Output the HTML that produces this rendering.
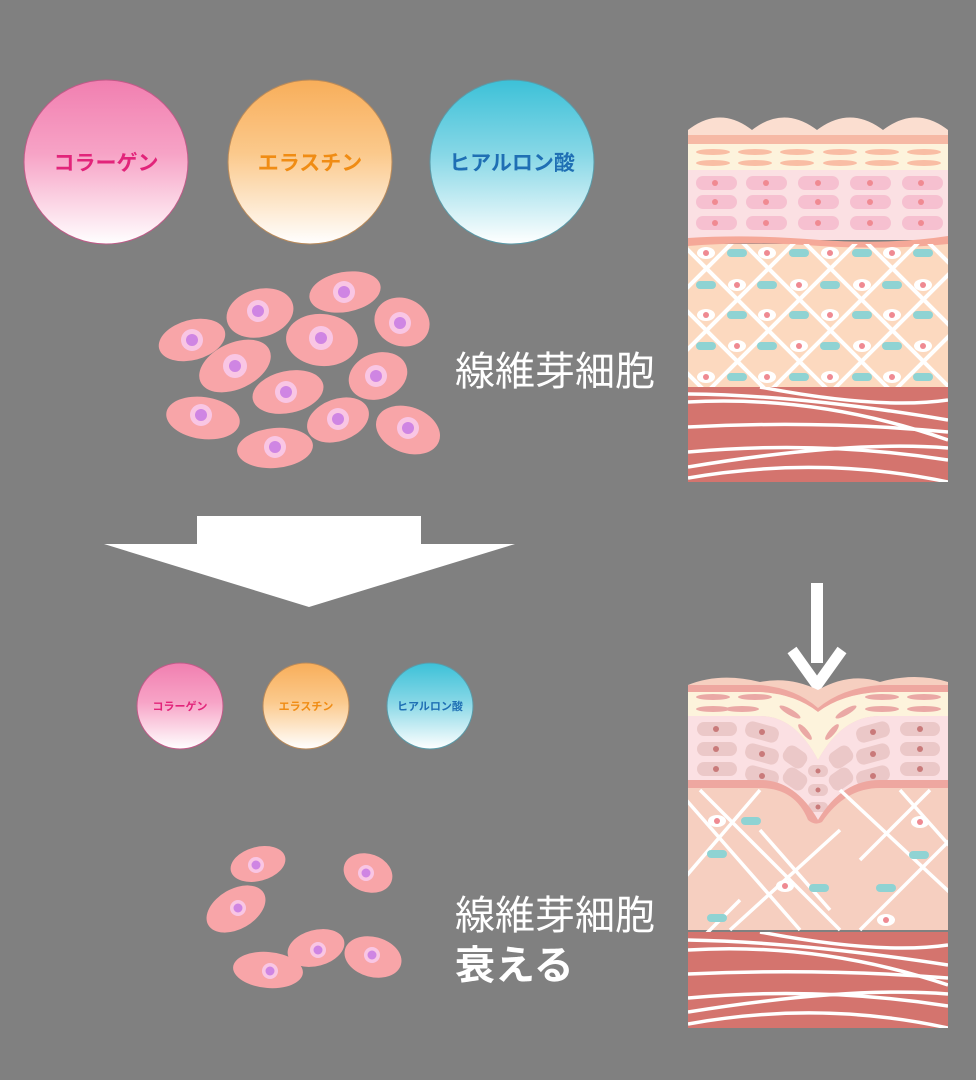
<!DOCTYPE html>
<html><head><meta charset="utf-8"><style>
html,body{margin:0;padding:0;background:#808080;}
svg{display:block}
</style></head><body>
<svg width="976" height="1080" viewBox="0 0 976 1080" xmlns="http://www.w3.org/2000/svg" font-family="Liberation Sans, Noto Sans CJK JP, sans-serif">
<defs>
<linearGradient id="gp" x1="0" y1="0" x2="0" y2="1"><stop offset="0" stop-color="#f17fb0"/><stop offset="0.45" stop-color="#f7a3c6"/><stop offset="1" stop-color="#ffffff"/></linearGradient>
<linearGradient id="go" x1="0" y1="0" x2="0" y2="1"><stop offset="0" stop-color="#f8ae5a"/><stop offset="0.45" stop-color="#fbc98c"/><stop offset="1" stop-color="#ffffff"/></linearGradient>
<linearGradient id="gb" x1="0" y1="0" x2="0" y2="1"><stop offset="0" stop-color="#3cc1d8"/><stop offset="0.45" stop-color="#86d7e6"/><stop offset="1" stop-color="#ffffff"/></linearGradient>
<clipPath id="c1"><rect x="688" y="244" width="260" height="143"/></clipPath>
<clipPath id="c2"><rect x="688" y="780" width="260" height="152"/></clipPath>
<clipPath id="m1"><rect x="688" y="387" width="260" height="95"/></clipPath>
<clipPath id="m2"><rect x="688" y="932" width="260" height="96"/></clipPath>
<g id="eye"><ellipse rx="9" ry="6" fill="#fff"/><circle r="3" fill="#ef8a92"/></g>
<rect id="tb" x="-10" y="-4" width="20" height="8" rx="4" fill="#8fd3d3"/>
</defs>

<circle cx="106" cy="162" r="82" fill="url(#gp)" stroke="#c05a88" stroke-width="1"/>
<text x="106" y="170" text-anchor="middle" font-size="21" font-weight="bold" fill="#e2247a">コラーゲン</text>
<circle cx="310" cy="162" r="82" fill="url(#go)" stroke="#b98a5a" stroke-width="1"/>
<text x="310" y="170" text-anchor="middle" font-size="21" font-weight="bold" fill="#f08c14">エラスチン</text>
<circle cx="512" cy="162" r="82" fill="url(#gb)" stroke="#5a9aa8" stroke-width="1"/>
<text x="512" y="170" text-anchor="middle" font-size="21" font-weight="bold" fill="#1f6fb4">ヒアルロン酸</text>

<circle cx="180" cy="706" r="43" fill="url(#gp)" stroke="#c05a88"/>
<text x="180" y="710" text-anchor="middle" font-size="11" font-weight="bold" fill="#e2247a">コラーゲン</text>
<circle cx="306" cy="706" r="43" fill="url(#go)" stroke="#b98a5a"/>
<text x="306" y="710" text-anchor="middle" font-size="11" font-weight="bold" fill="#f08c14">エラスチン</text>
<circle cx="430" cy="706" r="43" fill="url(#gb)" stroke="#5a9aa8"/>
<text x="430" y="710" text-anchor="middle" font-size="11" font-weight="bold" fill="#1f6fb4">ヒアルロン酸</text>

<g fill="#f8a5a8">
<ellipse cx="345" cy="292" rx="36" ry="20" transform="rotate(-10 345 292)"/>
<ellipse cx="260" cy="313" rx="34" ry="24" transform="rotate(-15 260 313)"/>
<ellipse cx="192" cy="340" rx="34" ry="20" transform="rotate(-15 192 340)"/>
<ellipse cx="322" cy="340" rx="36" ry="26" transform="rotate(5 322 340)"/>
<ellipse cx="402" cy="322" rx="28" ry="24" transform="rotate(20 402 322)"/>
<ellipse cx="235" cy="366" rx="38" ry="23" transform="rotate(-25 235 366)"/>
<ellipse cx="378" cy="376" rx="30" ry="23" transform="rotate(-20 378 376)"/>
<ellipse cx="288" cy="392" rx="36" ry="21" transform="rotate(-12 288 392)"/>
<ellipse cx="203" cy="418" rx="37" ry="21" transform="rotate(8 203 418)"/>
<ellipse cx="338" cy="420" rx="32" ry="21" transform="rotate(-20 338 420)"/>
<ellipse cx="408" cy="430" rx="33" ry="23" transform="rotate(20 408 430)"/>
<ellipse cx="275" cy="448" rx="38" ry="20" transform="rotate(-5 275 448)"/>
</g>
<g fill="#f9c6e4">
<circle cx="344" cy="292" r="11"/><circle cx="258" cy="311" r="11"/><circle cx="192" cy="340" r="11"/><circle cx="321" cy="338" r="12"/><circle cx="400" cy="323" r="11"/><circle cx="235" cy="366" r="12"/><circle cx="376" cy="376" r="11"/><circle cx="286" cy="392" r="11"/><circle cx="201" cy="415" r="11"/><circle cx="338" cy="419" r="11"/><circle cx="408" cy="428" r="11"/><circle cx="275" cy="447" r="11"/>
</g>
<g fill="#cf85e3">
<circle cx="344" cy="292" r="6"/><circle cx="258" cy="311" r="6"/><circle cx="192" cy="340" r="6"/><circle cx="321" cy="338" r="6"/><circle cx="400" cy="323" r="6"/><circle cx="235" cy="366" r="6"/><circle cx="376" cy="376" r="6"/><circle cx="286" cy="392" r="6"/><circle cx="201" cy="415" r="6"/><circle cx="338" cy="419" r="6"/><circle cx="408" cy="428" r="6"/><circle cx="275" cy="447" r="6"/>
</g>
<text x="455" y="385" font-size="40" fill="#fff">線維芽細胞</text>

<g fill="#f8a5a8">
<ellipse cx="258" cy="864" rx="28" ry="17" transform="rotate(-15 258 864)"/>
<ellipse cx="368" cy="873" rx="25" ry="19" transform="rotate(20 368 873)"/>
<ellipse cx="236" cy="909" rx="32" ry="20" transform="rotate(-30 236 909)"/>
<ellipse cx="316" cy="948" rx="29" ry="18" transform="rotate(-15 316 948)"/>
<ellipse cx="373" cy="957" rx="29" ry="20" transform="rotate(15 373 957)"/>
<ellipse cx="268" cy="970" rx="35" ry="18" transform="rotate(5 268 970)"/>
</g>
<g fill="#f9c6e4"><circle cx="256" cy="865" r="8"/><circle cx="366" cy="873" r="8"/><circle cx="238" cy="908" r="8"/><circle cx="318" cy="950" r="8"/><circle cx="372" cy="955" r="8"/><circle cx="270" cy="971" r="8"/></g>
<g fill="#cf85e3"><circle cx="256" cy="865" r="4.5"/><circle cx="366" cy="873" r="4.5"/><circle cx="238" cy="908" r="4.5"/><circle cx="318" cy="950" r="4.5"/><circle cx="372" cy="955" r="4.5"/><circle cx="270" cy="971" r="4.5"/></g>
<text x="455" y="929" font-size="40" fill="#fff">線維芽細胞</text>
<text x="455" y="979" font-size="40" font-weight="bold" fill="#fff">衰える</text>

<polygon points="197,516 421,516 421,544 515,544 309,607 104,544 197,544" fill="#fff"/>
<rect x="811" y="583" width="12" height="80" fill="#fff"/>
<polyline points="792,650 817,685 842,650" fill="none" stroke="#fff" stroke-width="11"/>

<g>
<path d="M688,135 L688,130 Q720,105 752,130 Q784,105 817,130 Q850,105 883,130 Q916,105 948,130 L948,135 Z" fill="#fbded0"/>
<rect x="688" y="135" width="260" height="9" fill="#f6b9a5"/>
<rect x="688" y="144" width="260" height="26" fill="#fdf3dc"/>
<g fill="#f9bda4">
<ellipse cx="713" cy="152" rx="17" ry="3"/><ellipse cx="755" cy="152" rx="17" ry="3"/><ellipse cx="797" cy="152" rx="17" ry="3"/><ellipse cx="840" cy="152" rx="17" ry="3"/><ellipse cx="882" cy="152" rx="17" ry="3"/><ellipse cx="924" cy="152" rx="17" ry="3"/>
<ellipse cx="713" cy="163" rx="17" ry="3"/><ellipse cx="755" cy="163" rx="17" ry="3"/><ellipse cx="797" cy="163" rx="17" ry="3"/><ellipse cx="840" cy="163" rx="17" ry="3"/><ellipse cx="882" cy="163" rx="17" ry="3"/><ellipse cx="924" cy="163" rx="17" ry="3"/>
</g>
<rect x="688" y="170" width="260" height="70" fill="#fbe0e3"/>
<g fill="#f6c0d0">
<rect x="696" y="176" width="41" height="14" rx="7"/><rect x="746" y="176" width="41" height="14" rx="7"/><rect x="798" y="176" width="41" height="14" rx="7"/><rect x="850" y="176" width="41" height="14" rx="7"/><rect x="902" y="176" width="41" height="14" rx="7"/>
<rect x="696" y="195" width="41" height="14" rx="7"/><rect x="746" y="195" width="41" height="14" rx="7"/><rect x="798" y="195" width="41" height="14" rx="7"/><rect x="850" y="195" width="41" height="14" rx="7"/><rect x="902" y="195" width="41" height="14" rx="7"/>
<rect x="696" y="216" width="41" height="14" rx="7"/><rect x="746" y="216" width="41" height="14" rx="7"/><rect x="798" y="216" width="41" height="14" rx="7"/><rect x="850" y="216" width="41" height="14" rx="7"/><rect x="902" y="216" width="41" height="14" rx="7"/>
</g>
<g fill="#f08a92">
<circle cx="715" cy="183" r="3"/><circle cx="766" cy="183" r="3"/><circle cx="818" cy="183" r="3"/><circle cx="870" cy="183" r="3"/><circle cx="921" cy="183" r="3"/>
<circle cx="715" cy="202" r="3"/><circle cx="766" cy="202" r="3"/><circle cx="818" cy="202" r="3"/><circle cx="870" cy="202" r="3"/><circle cx="921" cy="202" r="3"/>
<circle cx="715" cy="223" r="3"/><circle cx="766" cy="223" r="3"/><circle cx="818" cy="223" r="3"/><circle cx="870" cy="223" r="3"/><circle cx="921" cy="223" r="3"/>
</g>
<rect x="688" y="244" width="260" height="143" fill="#fcd9bf"/>
<path d="M688,238 Q750,234 820,240 Q890,245 948,236 L948,244 Q890,250 820,246 Q750,241 688,246 Z" fill="#f5a898"/>
<g clip-path="url(#c1)" stroke="#fff" stroke-width="4">
<path d="M613,237 L800,424 M675,237 L862,424 M737,237 L924,424 M799,237 L986,424 M861,237 L1048,424 M923,237 L1110,424 M551,237 L738,424 M489,237 L676,424"/>
<path d="M862,237 L675,424 M924,237 L737,424 M986,237 L799,424 M1048,237 L861,424 M1110,237 L923,424 M800,237 L613,424 M738,237 L551,424 M676,237 L489,424"/>
</g>
<g>
<use href="#tb" x="737" y="253"/><use href="#tb" x="799" y="253"/><use href="#tb" x="862" y="253"/><use href="#tb" x="923" y="253"/>
<use href="#tb" x="706" y="285"/><use href="#tb" x="767" y="285"/><use href="#tb" x="830" y="285"/><use href="#tb" x="892" y="285"/>
<use href="#tb" x="737" y="315"/><use href="#tb" x="799" y="315"/><use href="#tb" x="862" y="315"/><use href="#tb" x="923" y="315"/>
<use href="#tb" x="706" y="346"/><use href="#tb" x="767" y="346"/><use href="#tb" x="830" y="346"/><use href="#tb" x="892" y="346"/>
<use href="#tb" x="737" y="377"/><use href="#tb" x="799" y="377"/><use href="#tb" x="862" y="377"/><use href="#tb" x="923" y="377"/>
<use href="#eye" x="706" y="253"/><use href="#eye" x="767" y="253"/><use href="#eye" x="830" y="253"/><use href="#eye" x="892" y="253"/>
<use href="#eye" x="737" y="285"/><use href="#eye" x="799" y="285"/><use href="#eye" x="862" y="285"/><use href="#eye" x="923" y="285"/>
<use href="#eye" x="706" y="315"/><use href="#eye" x="767" y="315"/><use href="#eye" x="830" y="315"/><use href="#eye" x="892" y="315"/>
<use href="#eye" x="737" y="346"/><use href="#eye" x="799" y="346"/><use href="#eye" x="862" y="346"/><use href="#eye" x="923" y="346"/>
<use href="#eye" x="706" y="377"/><use href="#eye" x="767" y="377"/><use href="#eye" x="830" y="377"/><use href="#eye" x="892" y="377"/>
</g>
<rect x="688" y="387" width="260" height="95" fill="#d4746e"/>
<g clip-path="url(#m1)" fill="none" stroke="#fff" stroke-width="3.5">
<path d="M688,394 Q800,395 948,420"/>
<path d="M688,402 Q820,395 948,440"/>
<path d="M688,427 Q820,420 948,432"/>
<path d="M688,452 Q820,440 948,460"/>
<path d="M688,467 Q850,440 948,448"/>
<path d="M688,478 Q820,455 948,482"/>
<path d="M760,387 Q880,410 948,400"/>
</g>
</g>

<g>
<path d="M688,685 Q720,672 760,682 Q790,676 818,690 Q850,672 880,682 Q915,672 948,682 L948,930 L688,930 Z" fill="#f6cfc0"/>
<path d="M688,685 L760,685 Q795,688 818,708 Q842,688 880,685 L948,685 L948,692 L880,692 Q842,694 818,712 Q795,694 760,692 L688,692 Z" fill="#eea7a0"/>
<path d="M688,692 L760,692 Q795,694 818,712 Q842,694 880,692 L948,692 L948,716 L880,716 Q842,716 818,760 Q795,716 760,716 L688,716 Z" fill="#fdf3dc"/>
<g fill="#eaa8a5">
<ellipse cx="713" cy="697" rx="17" ry="3"/><ellipse cx="742" cy="709" rx="17" ry="3"/><ellipse cx="713" cy="709" rx="17" ry="3"/><ellipse cx="755" cy="697" rx="17" ry="3"/>
<ellipse cx="882" cy="697" rx="17" ry="3"/><ellipse cx="924" cy="697" rx="17" ry="3"/><ellipse cx="882" cy="709" rx="17" ry="3"/><ellipse cx="924" cy="709" rx="17" ry="3"/>
<ellipse cx="790" cy="712" rx="12" ry="3" transform="rotate(30 790 712)"/><ellipse cx="846" cy="712" rx="12" ry="3" transform="rotate(-30 846 712)"/>
<ellipse cx="805" cy="732" rx="10" ry="3" transform="rotate(50 805 732)"/><ellipse cx="832" cy="732" rx="10" ry="3" transform="rotate(-50 832 732)"/>
</g>
<path d="M688,716 L760,716 Q795,716 818,760 Q842,716 880,716 L948,716 L948,780 L880,780 Q842,780 818,820 Q795,780 760,780 L688,780 Z" fill="#fbe0e3"/>
<g fill="#ebc8c8">
<rect x="697" y="722" width="40" height="14" rx="7"/><rect x="697" y="742" width="40" height="14" rx="7"/><rect x="697" y="762" width="40" height="14" rx="7"/>
<rect x="900" y="722" width="40" height="14" rx="7"/><rect x="900" y="742" width="40" height="14" rx="7"/><rect x="900" y="762" width="40" height="14" rx="7"/>
<rect x="745" y="724" width="34" height="16" rx="7" transform="rotate(15 762 732)"/><rect x="745" y="746" width="34" height="16" rx="7" transform="rotate(15 762 754)"/><rect x="745" y="768" width="34" height="16" rx="7" transform="rotate(15 762 776)"/>
<rect x="856" y="724" width="34" height="16" rx="7" transform="rotate(-15 873 732)"/><rect x="856" y="746" width="34" height="16" rx="7" transform="rotate(-15 873 754)"/><rect x="856" y="768" width="34" height="16" rx="7" transform="rotate(-15 873 776)"/>
<rect x="783" y="748" width="24" height="18" rx="7" transform="rotate(35 795 757)"/><rect x="783" y="770" width="24" height="18" rx="7" transform="rotate(35 795 779)"/>
<rect x="829" y="748" width="24" height="18" rx="7" transform="rotate(-35 841 757)"/><rect x="829" y="770" width="24" height="18" rx="7" transform="rotate(-35 841 779)"/>
<rect x="808" y="765" width="20" height="12" rx="6"/><rect x="808" y="784" width="20" height="12" rx="6"/><rect x="808" y="802" width="20" height="10" rx="5"/>
</g>
<g fill="#c97a7a"><circle cx="716" cy="729" r="3"/><circle cx="716" cy="749" r="3"/><circle cx="716" cy="769" r="3"/><circle cx="920" cy="729" r="3"/><circle cx="920" cy="749" r="3"/><circle cx="920" cy="769" r="3"/><circle cx="762" cy="732" r="3"/><circle cx="762" cy="754" r="3"/><circle cx="762" cy="776" r="3"/><circle cx="873" cy="732" r="3"/><circle cx="873" cy="754" r="3"/><circle cx="873" cy="776" r="3"/><circle cx="818" cy="771" r="2.5"/><circle cx="818" cy="790" r="2.5"/><circle cx="818" cy="807" r="2.5"/></g>
<path d="M688,780 L760,780 Q795,780 818,820 Q842,780 880,780 L948,780 L948,788 L880,788 Q845,788 822,822 Q815,826 808,820 Q795,788 760,788 L688,788 Z" fill="#eea7a0"/>
<g clip-path="url(#c2)" stroke="#fff" stroke-width="3.5">
<path d="M660,770 L800,930 M700,790 L840,930 M760,830 L830,910 M840,790 L990,930 M900,790 L980,880"/>
<path d="M760,790 L640,930 M840,830 L730,930 M930,790 L860,860 M960,830 L860,930 M740,900 L700,940"/>
</g>
<use href="#tb" x="751" y="821"/><use href="#tb" x="717" y="854"/><use href="#tb" x="819" y="888"/><use href="#tb" x="886" y="888"/><use href="#tb" x="919" y="855"/><use href="#tb" x="717" y="918"/>
<use href="#eye" x="717" y="821"/><use href="#eye" x="920" y="822"/><use href="#eye" x="785" y="886"/><use href="#eye" x="886" y="920"/>
<rect x="688" y="932" width="260" height="96" fill="#d4746e"/>
<g clip-path="url(#m2)" fill="none" stroke="#fff" stroke-width="3.5">
<path d="M688,940 Q800,942 948,965"/>
<path d="M688,950 Q820,942 948,985"/>
<path d="M688,974 Q820,968 948,978"/>
<path d="M688,998 Q820,986 948,1006"/>
<path d="M688,1012 Q850,986 948,994"/>
<path d="M688,1024 Q820,1000 948,1028"/>
<path d="M760,932 Q880,955 948,945"/>
</g>
</g>
</svg>
</body></html>
